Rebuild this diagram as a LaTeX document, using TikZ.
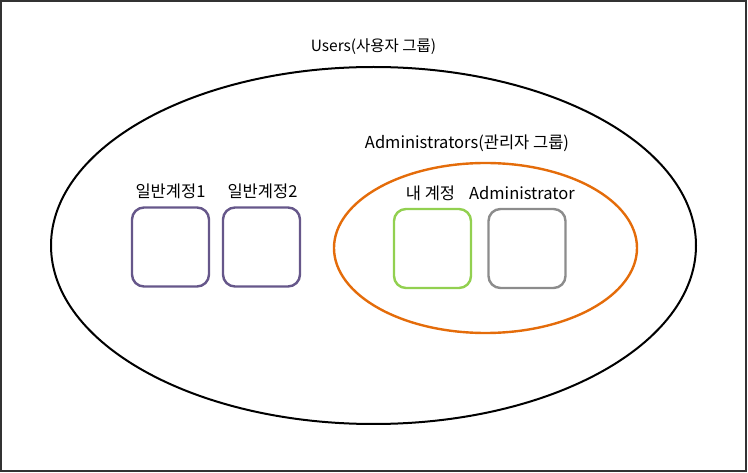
\documentclass[tikz,border=0pt]{standalone}
\usepackage{fontspec}
\setmainfont{Noto Sans CJK KR}
\usetikzlibrary{shapes.geometric}
\definecolor{grporange}{HTML}{E46C0A}
\definecolor{acctpurple}{HTML}{66578A}
\definecolor{acctgreen}{HTML}{92D050}
\definecolor{acctgray}{HTML}{8C8C8C}
\tikzset{
  grouprim/.style={draw,ellipse,inner sep=0pt},
  acctbox/.style={draw,rounded corners=12pt,line width=2.4pt,
    minimum width=77pt,minimum height=79pt,inner sep=0pt},
  lbl/.style={font=\fontsize{16.5}{18}\selectfont,inner sep=0pt}
}
\begin{document}
\begin{tikzpicture}[x=1pt,y=-1pt]
  \useasboundingbox (0,0) rectangle (748,473);
  \draw[line width=1.8pt,black!80] (1,1) rectangle (746,471);

  % groups
  \node[grouprim,line width=2pt,minimum width=645pt,minimum height=357pt]
    (users) at (373.5,245.5) {};
  \node[grouprim,line width=2.4pt,grporange,minimum width=303pt,minimum height=170pt]
    (admins) at (485.5,248) {};

  \node[lbl,font=\fontsize{15.5}{17}\selectfont] (userslbl) at (373.5,47) {Users(사용자 그룹)};
  \node[lbl] (adminslbl) at (467,143) {Administrators(관리자 그룹)};

  % accounts
  \node[acctbox,acctpurple] (acct1) at (170.5,247) {};
  \node[acctbox,acctpurple] (acct2) at (261.5,247) {};
  \node[acctbox,acctgreen] (mine) at (432.5,248.5) {};
  \node[acctbox,acctgray] (admin) at (527,248.5) {};

  \node[lbl] (acct1lbl) at (170.5,191) {일반계정1};
  \node[lbl] (acct2lbl) at (262.5,191) {일반계정2};
  \node[lbl] (minelbl) at (430.5,193) {내 계정};
  \node[lbl] (adminlbl) at (522,193) {Administrator};

\end{tikzpicture}
\end{document}
